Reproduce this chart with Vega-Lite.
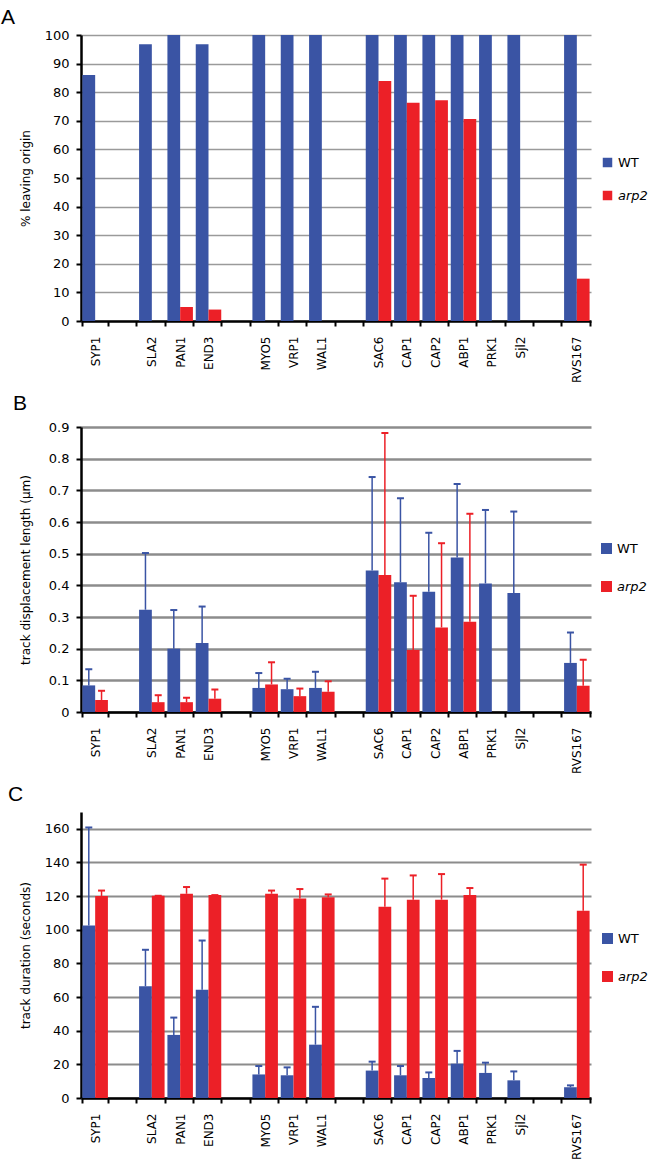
{
  "$schema": "https://vega.github.io/schema/vega-lite/v6.json",
  "background": "white",
  "padding": {"left": 1, "top": 7, "right": 0, "bottom": 0},
  "config": {
    "view": {"stroke": null},
    "title": {"font": "Liberation Sans", "fontSize": 21, "fontWeight": "normal", "color": "black", "anchor": "start", "frame": "group"},
    "axisX": {"title": null, "labelAngle": -90, "tickBand": "extent", "labelFont": "DejaVu Sans", "labelFontSize": 12, "labelColor": "black", "labelPadding": 10, "tickSize": 5, "tickWidth": 2, "tickColor": "black", "domainColor": "black", "domainWidth": 2.5, "grid": false},
    "axisY": {"grid": true, "gridColor": "#969696", "domainColor": "black", "domainWidth": 2.5, "tickColor": "black", "tickWidth": 2, "tickSize": 5, "labelFont": "DejaVu Sans", "labelFontSize": 13, "labelPadding": 7, "labelColor": "black", "titleFont": "DejaVu Sans", "titleFontSize": 12, "titleFontWeight": "normal", "titleColor": "black", "titlePadding": 10},
    "legend": {"title": null, "orient": "none", "symbolType": "square", "symbolSize": 90, "symbolOpacity": 1, "labelFont": "DejaVu Sans", "labelFontSize": 13, "labelColor": "black", "labelOffset": 4, "padding": 0}
  },
  "concat": [
    {
      "width": 510, "height": 286,
      "title": {"text": "A", "dx": -80, "offset": 1},
      "data": {"values": [
        {"gene": "SYP1", "strain": "WT", "v": 86}, {"gene": "SYP1", "strain": "arp2", "v": 0},
        {"gene": "SLA2", "strain": "WT", "v": 96.8}, {"gene": "SLA2", "strain": "arp2", "v": 0},
        {"gene": "PAN1", "strain": "WT", "v": 100}, {"gene": "PAN1", "strain": "arp2", "v": 4.9},
        {"gene": "END3", "strain": "WT", "v": 96.8}, {"gene": "END3", "strain": "arp2", "v": 4.0},
        {"gene": "MYO5", "strain": "WT", "v": 100}, {"gene": "MYO5", "strain": "arp2", "v": 0},
        {"gene": "VRP1", "strain": "WT", "v": 100}, {"gene": "VRP1", "strain": "arp2", "v": 0},
        {"gene": "WAL1", "strain": "WT", "v": 100}, {"gene": "WAL1", "strain": "arp2", "v": 0},
        {"gene": "SAC6", "strain": "WT", "v": 100}, {"gene": "SAC6", "strain": "arp2", "v": 83.9},
        {"gene": "CAP1", "strain": "WT", "v": 100}, {"gene": "CAP1", "strain": "arp2", "v": 76.3},
        {"gene": "CAP2", "strain": "WT", "v": 100}, {"gene": "CAP2", "strain": "arp2", "v": 77.2},
        {"gene": "ABP1", "strain": "WT", "v": 100}, {"gene": "ABP1", "strain": "arp2", "v": 70.6},
        {"gene": "PRK1", "strain": "WT", "v": 100},
        {"gene": "Sjl2", "strain": "WT", "v": 100},
        {"gene": "RVS167", "strain": "WT", "v": 100}, {"gene": "RVS167", "strain": "arp2", "v": 14.8}
      ]},
      "mark": {"type": "bar"},
      "encoding": {
        "x": {"field": "gene", "type": "nominal", "scale": {"domain": ["SYP1"," ","SLA2","PAN1","END3","  ","MYO5","VRP1","WAL1","   ","SAC6","CAP1","CAP2","ABP1","PRK1","Sjl2","    ","RVS167"], "paddingInner": 0.1, "paddingOuter": 0.05}},
        "xOffset": {"field": "strain", "type": "nominal", "scale": {"domain": ["WT","arp2"]}},
        "color": {"field": "strain", "type": "nominal", "scale": {"domain": ["WT","arp2"], "range": ["#3a54a4","#ec2027"]},
          "legend": {"legendX": 520, "legendY": 121, "rowPadding": 19, "encode": {"labels": {"update": {"fontStyle": {"signal": "datum.value === 'arp2' ? 'italic' : 'normal'"}}}}}},
        "y": {"field": "v", "type": "quantitative", "scale": {"domain": [0, 100], "nice": false}, "axis": {"title": "% leaving origin", "titleX": -49, "titleY": 143, "values": [0,10,20,30,40,50,60,70,80,90,100], "gridWidth": 1.5, "gridColor": "#9a9a9a"}}
      }
    },
    {
      "width": 510, "height": 285,
      "title": {"text": "B", "dx": -68, "offset": 7},
      "data": {"values": [
        {"gene": "SYP1", "strain": "WT", "v": 0.084, "e": 0.135}, {"gene": "SYP1", "strain": "arp2", "v": 0.038, "e": 0.067},
        {"gene": "SLA2", "strain": "WT", "v": 0.323, "e": 0.502}, {"gene": "SLA2", "strain": "arp2", "v": 0.031, "e": 0.053},
        {"gene": "PAN1", "strain": "WT", "v": 0.200, "e": 0.322}, {"gene": "PAN1", "strain": "arp2", "v": 0.031, "e": 0.045},
        {"gene": "END3", "strain": "WT", "v": 0.218, "e": 0.333}, {"gene": "END3", "strain": "arp2", "v": 0.042, "e": 0.071},
        {"gene": "MYO5", "strain": "WT", "v": 0.076, "e": 0.123}, {"gene": "MYO5", "strain": "arp2", "v": 0.087, "e": 0.157},
        {"gene": "VRP1", "strain": "WT", "v": 0.072, "e": 0.105}, {"gene": "VRP1", "strain": "arp2", "v": 0.050, "e": 0.074},
        {"gene": "WAL1", "strain": "WT", "v": 0.076, "e": 0.127}, {"gene": "WAL1", "strain": "arp2", "v": 0.064, "e": 0.097},
        {"gene": "SAC6", "strain": "WT", "v": 0.447, "e": 0.742}, {"gene": "SAC6", "strain": "arp2", "v": 0.433, "e": 0.881},
        {"gene": "CAP1", "strain": "WT", "v": 0.410, "e": 0.675}, {"gene": "CAP1", "strain": "arp2", "v": 0.196, "e": 0.367},
        {"gene": "CAP2", "strain": "WT", "v": 0.380, "e": 0.566}, {"gene": "CAP2", "strain": "arp2", "v": 0.267, "e": 0.533},
        {"gene": "ABP1", "strain": "WT", "v": 0.488, "e": 0.720}, {"gene": "ABP1", "strain": "arp2", "v": 0.285, "e": 0.626},
        {"gene": "PRK1", "strain": "WT", "v": 0.406, "e": 0.638},
        {"gene": "Sjl2", "strain": "WT", "v": 0.376, "e": 0.633},
        {"gene": "RVS167", "strain": "WT", "v": 0.155, "e": 0.251}, {"gene": "RVS167", "strain": "arp2", "v": 0.083, "e": 0.165}
      ]},
      "encoding": {
        "x": {"field": "gene", "type": "nominal", "scale": {"domain": ["SYP1"," ","SLA2","PAN1","END3","  ","MYO5","VRP1","WAL1","   ","SAC6","CAP1","CAP2","ABP1","PRK1","Sjl2","    ","RVS167"], "paddingInner": 0.1, "paddingOuter": 0.05}},
        "xOffset": {"field": "strain", "type": "nominal", "scale": {"domain": ["WT","arp2"]}},
        "color": {"field": "strain", "type": "nominal", "scale": {"domain": ["WT","arp2"], "range": ["#3a54a4","#ec2027"]},
          "legend": {"legendX": 519, "legendY": 115, "rowPadding": 21, "encode": {"labels": {"update": {"fontStyle": {"signal": "datum.value === 'arp2' ? 'italic' : 'normal'"}}}}}}
      },
      "layer": [
        {"mark": {"type": "bar"},
         "encoding": {"y": {"field": "v", "type": "quantitative", "scale": {"domain": [0, 0.9], "nice": false}, "axis": {"title": "track displacement length (µm)", "titleX": -49, "titleY": 142.5, "values": [0,0.1,0.2,0.3,0.4,0.5,0.6,0.7,0.8,0.9], "format": ".1~f", "gridWidth": 2.5, "gridColor": "#8c8c8c"}}}},
        {"mark": {"type": "rule", "strokeWidth": 1.5},
         "encoding": {"y": {"field": "v", "type": "quantitative", "axis": {"title": "track displacement length (µm)", "titleX": -49, "titleY": 142.5, "values": [0,0.1,0.2,0.3,0.4,0.5,0.6,0.7,0.8,0.9], "format": ".1~f", "gridWidth": 2.5, "gridColor": "#8c8c8c"}}, "y2": {"field": "e"}}},
        {"mark": {"type": "tick", "size": 7, "thickness": 2, "opacity": 1},
         "encoding": {"y": {"field": "e", "type": "quantitative", "axis": {"title": "track displacement length (µm)", "titleX": -49, "titleY": 142.5, "values": [0,0.1,0.2,0.3,0.4,0.5,0.6,0.7,0.8,0.9], "format": ".1~f", "gridWidth": 2.5, "gridColor": "#8c8c8c"}}}}
      ]
    },
    {
      "width": 510, "height": 286,
      "title": {"text": "C", "dx": -73, "offset": 7},
      "data": {"values": [
        {"gene": "SYP1", "strain": "WT", "v": 102.5, "e": 160.8}, {"gene": "SYP1", "strain": "arp2", "v": 120.1, "e": 123.3},
        {"gene": "SLA2", "strain": "WT", "v": 66.4, "e": 88.1}, {"gene": "SLA2", "strain": "arp2", "v": 120.2, "e": 120.2},
        {"gene": "PAN1", "strain": "WT", "v": 37.5, "e": 47.8}, {"gene": "PAN1", "strain": "arp2", "v": 121.4, "e": 125.4},
        {"gene": "END3", "strain": "WT", "v": 64.3, "e": 93.6}, {"gene": "END3", "strain": "arp2", "v": 120.6, "e": 120.6},
        {"gene": "MYO5", "strain": "WT", "v": 14.0, "e": 19.0}, {"gene": "MYO5", "strain": "arp2", "v": 121.4, "e": 123.3},
        {"gene": "VRP1", "strain": "WT", "v": 13.5, "e": 18.2}, {"gene": "VRP1", "strain": "arp2", "v": 118.6, "e": 124.2},
        {"gene": "WAL1", "strain": "WT", "v": 31.7, "e": 54.2}, {"gene": "WAL1", "strain": "arp2", "v": 119.4, "e": 121.0},
        {"gene": "SAC6", "strain": "WT", "v": 16.3, "e": 21.6}, {"gene": "SAC6", "strain": "arp2", "v": 113.7, "e": 130.4},
        {"gene": "CAP1", "strain": "WT", "v": 13.5, "e": 19.0}, {"gene": "CAP1", "strain": "arp2", "v": 117.9, "e": 132.3},
        {"gene": "CAP2", "strain": "WT", "v": 11.9, "e": 15.2}, {"gene": "CAP2", "strain": "arp2", "v": 117.9, "e": 133.1},
        {"gene": "ABP1", "strain": "WT", "v": 20.4, "e": 28.0}, {"gene": "ABP1", "strain": "arp2", "v": 120.6, "e": 124.8},
        {"gene": "PRK1", "strain": "WT", "v": 14.9, "e": 21.0},
        {"gene": "Sjl2", "strain": "WT", "v": 10.5, "e": 15.8},
        {"gene": "RVS167", "strain": "WT", "v": 6.4, "e": 7.5}, {"gene": "RVS167", "strain": "arp2", "v": 111.3, "e": 138.7}
      ]},
      "encoding": {
        "x": {"field": "gene", "type": "nominal", "scale": {"domain": ["SYP1"," ","SLA2","PAN1","END3","  ","MYO5","VRP1","WAL1","   ","SAC6","CAP1","CAP2","ABP1","PRK1","Sjl2","    ","RVS167"], "paddingInner": 0.1, "paddingOuter": 0.05}},
        "xOffset": {"field": "strain", "type": "nominal", "scale": {"domain": ["WT","arp2"]}},
        "color": {"field": "strain", "type": "nominal", "scale": {"domain": ["WT","arp2"], "range": ["#3a54a4","#ec2027"]},
          "legend": {"legendX": 520, "legendY": 120, "rowPadding": 21, "encode": {"labels": {"update": {"fontStyle": {"signal": "datum.value === 'arp2' ? 'italic' : 'normal'"}}}}}}
      },
      "layer": [
        {"mark": {"type": "bar"},
         "encoding": {"y": {"field": "v", "type": "quantitative", "scale": {"domain": [0, 170], "nice": false}, "axis": {"title": "track duration  (seconds)", "titleX": -49, "titleY": 143, "values": [0,20,40,60,80,100,120,140,160], "gridWidth": 2.2, "gridColor": "#8c8c8c"}}}},
        {"mark": {"type": "rule", "strokeWidth": 1.5},
         "encoding": {"y": {"field": "v", "type": "quantitative", "axis": {"title": "track duration  (seconds)", "titleX": -49, "titleY": 143, "values": [0,20,40,60,80,100,120,140,160], "gridWidth": 2.2, "gridColor": "#8c8c8c"}}, "y2": {"field": "e"}}},
        {"mark": {"type": "tick", "size": 7, "thickness": 2, "opacity": 1},
         "encoding": {"y": {"field": "e", "type": "quantitative", "axis": {"title": "track duration  (seconds)", "titleX": -49, "titleY": 143, "values": [0,20,40,60,80,100,120,140,160], "gridWidth": 2.2, "gridColor": "#8c8c8c"}}}}
      ]
    }
  ],
  "columns": 1,
  "align": "none",
  "spacing": 10,
  "resolve": {"scale": {"color": "independent", "x": "independent", "y": "independent"}, "legend": {"color": "independent"}}
}
